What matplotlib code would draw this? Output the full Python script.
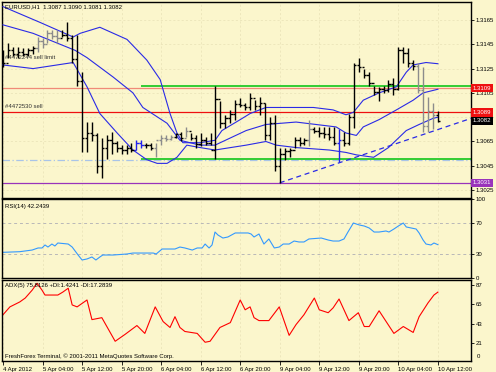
import numpy as np
import matplotlib.pyplot as plt
from matplotlib.transforms import blended_transform_factory

plt.rcParams['font.family'] = ['Liberation Sans', 'DejaVu Sans']

# ---- data (EURUSD H1) ----
bar_high = [1.3140, 1.3146, 1.3143, 1.3143, 1.3142, 1.3142, 1.3144, 1.3151, 1.3150, 1.3157,
            1.3157, 1.3157, 1.3157, 1.3163, 1.3153, 1.3153, 1.3122, 1.3081, 1.3081, 1.3072,
            1.3068, 1.3070, 1.3073, 1.3065, 1.3062, 1.3062, 1.3064, 1.3066, 1.3066, 1.3064,
            1.3064, 1.3064, 1.3070, 1.3070, 1.3070, 1.3072, 1.3073, 1.3077, 1.3072, 1.3070,
            1.3072, 1.3069, 1.3072, 1.3111, 1.3098, 1.3087, 1.3091, 1.3099, 1.3101, 1.3097,
            1.3105, 1.3099, 1.3102, 1.3097, 1.3085, 1.3087, 1.3060, 1.3060, 1.3060, 1.3069,
            1.3069, 1.3068, 1.3083, 1.3077, 1.3077, 1.3077, 1.3077, 1.3077, 1.3075, 1.3073,
            1.3088, 1.3130, 1.3134, 1.3125, 1.3122, 1.3111, 1.3110, 1.3111, 1.3116, 1.3117,
            1.3143, 1.3143, 1.3142, 1.3132, 1.3130, 1.3126, 1.3102, 1.3097, 1.3090]
bar_low = [1.3126, 1.3134, 1.3135, 1.3134, 1.3135, 1.3135, 1.3137, 1.3139, 1.3142, 1.3146,
           1.3149, 1.3146, 1.3151, 1.3148, 1.3130, 1.3111, 1.3056, 1.3056, 1.3065, 1.3039,
           1.3035, 1.3051, 1.3055, 1.3056, 1.3055, 1.3055, 1.3056, 1.3058, 1.3060, 1.3060,
           1.3058, 1.3052, 1.3062, 1.3065, 1.3066, 1.3068, 1.3065, 1.3069, 1.3066, 1.3060,
           1.3061, 1.3062, 1.3062, 1.3051, 1.3076, 1.3076, 1.3080, 1.3083, 1.3093, 1.3091,
           1.3091, 1.3091, 1.3087, 1.3066, 1.3066, 1.3041, 1.3031, 1.3050, 1.3052, 1.3060,
           1.3061, 1.3062, 1.3061, 1.3072, 1.3069, 1.3068, 1.3066, 1.3062, 1.3048, 1.3061,
           1.3062, 1.3076, 1.3122, 1.3117, 1.3111, 1.3103, 1.3098, 1.3105, 1.3106, 1.3103,
           1.3107, 1.3130, 1.3126, 1.3124, 1.3105, 1.3073, 1.3073, 1.3075, 1.3081]
bar_open = [1.3138, 1.3130, 1.3140, 1.3137, 1.3139, 1.3137, 1.3140, 1.3142, 1.3148, 1.3145,
            1.3154, 1.3152, 1.3150, 1.3153, 1.3150, 1.3133, 1.3115, 1.3068, 1.3072, 1.3070,
            1.3045, 1.3060, 1.3066, 1.3064, 1.3060, 1.3058, 1.3060, 1.3058, 1.3064, 1.3062,
            1.3062, 1.3060, 1.3066, 1.3068, 1.3067, 1.3069, 1.3071, 1.3068, 1.3074, 1.3068,
            1.3063, 1.3066, 1.3064, 1.3058, 1.3100, 1.3080, 1.3084, 1.3088, 1.3096, 1.3095,
            1.3093, 1.3101, 1.3094, 1.3097, 1.3070, 1.3080, 1.3045, 1.3055, 1.3057, 1.3058,
            1.3066, 1.3064, 1.3066, 1.3075, 1.3074, 1.3072, 1.3071, 1.3069, 1.3064, 1.3066,
            1.3064, 1.3085, 1.3128, 1.3126, 1.3120, 1.3113, 1.3106, 1.3108, 1.3107, 1.3112,
            1.3108, 1.3140, 1.3138, 1.3130, 1.3127, 1.3107, 1.3078, 1.3090, 1.3087]
bar_close = [1.3130, 1.3140, 1.3137, 1.3139, 1.3137, 1.3140, 1.3142, 1.3148, 1.3145, 1.3154,
             1.3152, 1.3150, 1.3153, 1.3150, 1.3133, 1.3115, 1.3068, 1.3072, 1.3070, 1.3045,
             1.3060, 1.3066, 1.3064, 1.3060, 1.3058, 1.3060, 1.3058, 1.3064, 1.3062, 1.3062,
             1.3060, 1.3066, 1.3068, 1.3067, 1.3069, 1.3071, 1.3068, 1.3074, 1.3068, 1.3063,
             1.3066, 1.3064, 1.3058, 1.3100, 1.3080, 1.3084, 1.3088, 1.3096, 1.3095, 1.3093,
             1.3101, 1.3094, 1.3097, 1.3070, 1.3080, 1.3045, 1.3055, 1.3057, 1.3058, 1.3066,
             1.3064, 1.3066, 1.3075, 1.3074, 1.3072, 1.3071, 1.3069, 1.3064, 1.3066, 1.3064,
             1.3085, 1.3128, 1.3126, 1.3120, 1.3113, 1.3106, 1.3108, 1.3107, 1.3112, 1.3108,
             1.3140, 1.3138, 1.3130, 1.3127, 1.3107, 1.3078, 1.3090, 1.3087, 1.3082]
gray_bars = [7, 8, 9, 10, 11, 31, 32, 33, 34, 37, 62, 84, 85, 86, 87]
blue_bars = [27, 28, 68]

# Bollinger bands (bar index, price)
bb_up_x = [0, 7.5, 14.2, 15.6, 19.6, 25.1, 29.1, 31.8, 33.8, 35.2, 36.4, 39.9, 42.9, 44.3,
           48, 50, 53.2, 62.8, 66.8, 69.4, 70.9, 72.9, 76.1, 79.6, 81.6, 83, 85.6, 88]
bb_up_y = [1.3176, 1.3163, 1.3151, 1.3154, 1.3159, 1.3149, 1.3132, 1.3116, 1.3088, 1.3072,
           1.3064, 1.3064, 1.3066, 1.3074, 1.3083, 1.3088, 1.3093, 1.3093, 1.3091, 1.3087,
           1.3089, 1.3099, 1.3105, 1.3110, 1.3122, 1.3128, 1.3130, 1.3129]
bb_mid_x = [0, 6.1, 14.6, 17, 22.3, 26.3, 28.3, 33.2, 35.8, 39.9, 42.9, 49.2, 53.2, 59.3,
            67.4, 69.4, 71.5, 72.9, 76.1, 79.6, 83, 85, 88]
bb_mid_y = [1.3161, 1.3154, 1.3140, 1.3134, 1.3118, 1.3105, 1.3093, 1.3080, 1.3066, 1.3062,
            1.3062, 1.3074, 1.3079, 1.3081, 1.3077, 1.3072, 1.3070, 1.3077, 1.3083, 1.3091,
            1.3099, 1.3105, 1.3108]
bb_lo_x = [0, 6.1, 14.2, 17, 19.6, 23.1, 26.3, 29.1, 31.2, 33.2, 35.2, 37.2, 39.9, 42.9,
           49.2, 53.2, 55.3, 59.3, 66, 69.4, 71.5, 75, 78, 81.6, 84.2, 87, 88]
bb_lo_y = [1.3128, 1.3125, 1.3130, 1.3110, 1.3088, 1.3072, 1.3058, 1.3050, 1.3047, 1.3047,
           1.3052, 1.3062, 1.3060, 1.3058, 1.3062, 1.3065, 1.3062, 1.3060, 1.3058, 1.3056,
           1.3054, 1.3052, 1.3060, 1.3074, 1.3079, 1.3084, 1.3085]

trend_x = [56, 94.7]
trend_y = [1.3031, 1.3084]

sell_limit_price = 1.3109
sell_price = 1.3089
bid_price = 1.3082
low_level = 1.3031
tp_level = 1.3050
green_hi, green_lo, green_start = 1.3111, 1.3051, 28

price_ticks = [1.3165, 1.3145, 1.3125, 1.3105, 1.3085, 1.3065, 1.3045, 1.3025]

rsi_x = [0, 3.4, 5.9, 7.1, 7.9, 8.5, 9.1, 9.9, 10.5, 11.1, 13.2, 14, 15.2, 16, 17, 18, 18.8,
         19.6, 20.2, 22.3, 25.1, 26.3, 30.4, 31, 32.2, 34.8, 35.8, 36.8, 38.3, 39.3, 40.3,
         40.9, 41.7, 42.3, 42.9, 43.5, 44.5, 45.5, 47, 48, 49.6, 50.2, 50.8, 51.8, 52.8,
         53.8, 54.9, 55.9, 56.7, 57.9, 58.9, 59.9, 60.9, 61.9, 64.4, 65.8, 66.8, 68, 69,
         69.8, 70.9, 72.1, 73.1, 74.1, 75.1, 76.1, 77.5, 78.1, 79.1, 80, 81, 81.6, 82.6,
         83.6, 84.2, 85, 85.6, 86.6, 87.2, 88]
rsi_y = [32.5, 33.3, 35.4, 38.0, 38.0, 41.8, 39.2, 43.0, 40.5, 44.3, 43.0, 39.2, 29.1, 22.8,
         24.1, 26.6, 22.8, 26.6, 29.1, 29.1, 30.4, 31.6, 31.6, 30.4, 36.7, 36.7, 39.2, 38.0,
         35.4, 38.0, 38.0, 43.0, 38.0, 41.8, 58.2, 54.4, 50.6, 51.9, 57.0, 57.0, 57.0, 55.7,
         51.9, 55.7, 43.0, 49.4, 38.0, 39.2, 43.0, 43.0, 46.8, 45.6, 45.6, 49.4, 50.6, 48.1,
         46.8, 46.8, 49.4, 58.2, 69.6, 67.1, 65.8, 63.3, 58.2, 58.2, 59.5, 58.2, 62.0, 65.8,
         69.6, 64.6, 63.3, 62.0, 57.0, 48.1, 43.0, 41.8, 44.3, 42.2]

adx_x = [0, 1.4, 3.4, 4.5, 5.9, 6.9, 7.9, 8.5, 11.1, 12.1, 13.2, 14, 15, 17, 18, 20, 22.7,
         24.7, 27.1, 28.7, 30.8, 32.4, 33.8, 34.8, 35.8, 36.8, 39.3, 40.9, 41.9, 43.9, 46,
         48, 49, 50, 50.8, 51.8, 53.8, 55.9, 57.9, 59.3, 60.9, 63, 64, 65.8, 66.8, 68, 70,
         71.9, 73.1, 74.1, 76.1, 79.1, 81, 83, 84.2, 86, 87.2, 88]
adx_y = [53.3, 62.2, 67.8, 72.2, 81.1, 88.9, 81.1, 75.6, 75.6, 78.9, 83.3, 64.4, 62.2, 70.0,
         47.8, 50.0, 23.3, 31.1, 41.1, 32.2, 62.2, 45.6, 38.9, 51.1, 38.9, 34.4, 32.2, 22.2,
         23.3, 38.9, 44.4, 70.0, 58.9, 62.2, 50.0, 46.7, 46.7, 62.2, 30.0, 42.2, 53.3, 72.2,
         58.9, 55.6, 61.1, 71.1, 46.7, 55.6, 40.0, 40.0, 57.8, 32.2, 40.0, 33.3, 51.1, 66.7,
         75.6, 78.9]

time_ticks = [0, 8, 16, 24, 32, 40, 48, 56, 64, 72, 80, 88]
time_labels = ['4 Apr 2012', '5 Apr 04:00', '5 Apr 12:00', '5 Apr 20:00', '6 Apr 04:00',
               '6 Apr 12:00', '6 Apr 20:00', '9 Apr 04:00', '9 Apr 12:00', '9 Apr 20:00',
               '10 Apr 04:00', '10 Apr 12:00']

# ---- figure ----
W, H = 496, 372
bg = '#FBF6CC'
grid_c = '#E8E1B6'
fs = 4.3
fig = plt.figure(figsize=(W / 100, H / 100), dpi=100)
fig.patch.set_facecolor(bg)

ax = fig.add_axes([2 / W, 1 - 198 / H, 469 / W, 196 / H])
ax_rsi = fig.add_axes([2 / W, 1 - 278 / H, 469 / W, 79 / H])
ax_adx = fig.add_axes([2 / W, 1 - 361 / H, 469 / W, 81 / H])

xmin, xmax = -0.2, 94.7
for a in (ax, ax_rsi, ax_adx):
    a.set_facecolor(bg)
    a.set_xlim(xmin, xmax)
    for s in a.spines.values():
        s.set_color('black')
        s.set_linewidth(1.0)
    a.yaxis.tick_right()
    a.tick_params(axis='y', direction='out', length=2, width=0.6, labelsize=fs, pad=1.5)
    a.set_xticks(time_ticks)
    a.grid(True, color=grid_c, linestyle=(0, (3, 3)), linewidth=0.5)
    a.set_axisbelow(True)
ax.tick_params(axis='x', length=0, labelbottom=False)
ax_rsi.tick_params(axis='x', length=0, labelbottom=False)

# main price pane
ax.set_ylim(1.30185, 1.31798)
ax.set_yticks(price_ticks)
ax.set_yticklabels(['%.4f' % p for p in price_ticks])

idx = np.arange(len(bar_high))
cols = []
for i in idx:
    if i in blue_bars:
        cols.append('#2222EE')
    elif i in gray_bars:
        cols.append('#8C8C8C')
    else:
        cols.append('black')
ax.vlines(idx, bar_low, bar_high, colors=cols, linewidth=1.0, zorder=4)
ax.hlines(bar_open, idx - 0.45, idx, colors=cols, linewidth=1.0, zorder=4)
ax.hlines(bar_close, idx, idx + 0.45, colors=cols, linewidth=1.0, zorder=4)

ax.plot(bb_up_x, bb_up_y, color='#2A2AE6', lw=0.8, zorder=3)
ax.plot(bb_mid_x, bb_mid_y, color='#2A2AE6', lw=0.8, zorder=3)
ax.plot(bb_lo_x, bb_lo_y, color='#2A2AE6', lw=0.8, zorder=3)
ax.plot(trend_x, trend_y, color='#2A2AE6', lw=0.9, ls=(0, (4, 3)), zorder=3)

ax.axhline(tp_level, color='#A9C4E8', lw=0.9, ls=(0, (6, 2, 1, 2)), zorder=2)
ax.axhline(sell_limit_price, color='#F08A78', lw=0.9, zorder=2)
ax.axhline(sell_price, color='#EE1010', lw=0.9, zorder=2)
ax.axhline(low_level, color='#9933BB', lw=0.9, zorder=2)
ax.hlines([green_hi, green_lo], green_start, xmax, colors='#33CC33', lw=1.4, zorder=2)

tr = blended_transform_factory(ax.transAxes, ax.transData)
ax.text(0.006, 1.31777, 'EURUSD,H1  1.3087 1.3090 1.3081 1.3082', fontsize=fs,
        transform=tr, va='top')
ax.text(0.006, 1.31345, '#4472244 sell limit', fontsize=fs, color='#333333',
        transform=tr, va='center')
ax.text(0.006, 1.30935, '#4472530 sell', fontsize=fs, color='#333333',
        transform=tr, va='center')

for p, fc in [(sell_limit_price, '#EE1010'), (sell_price, '#EE1010'),
              (bid_price, 'black'), (low_level, '#9933BB')]:
    ax.text(1.003, p, '%.4f' % p, transform=tr, fontsize=fs, color='white', va='center',
            ha='left', zorder=10,
            bbox=dict(facecolor=fc, edgecolor='none', boxstyle='square,pad=0.3'))

# RSI pane
ax_rsi.set_ylim(0, 100)
ax_rsi.set_yticks([0, 30, 70, 100])
ax_rsi.yaxis.grid(False)
ax_rsi.axhline(70, color='#B8B8B8', lw=0.7, ls=(0, (3, 3)))
ax_rsi.axhline(30, color='#B8B8B8', lw=0.7, ls=(0, (3, 3)))
ax_rsi.plot(rsi_x, rsi_y, color='#3399FF', lw=0.8)
ax_rsi.text(0.006, 0.94, 'RSI(14) 42.2439', transform=ax_rsi.transAxes, fontsize=fs, va='top')

# ADX pane
ax_adx.set_ylim(1, 92.6)
ax_adx.set_yticks([21, 43, 65, 87])
ax_adx.yaxis.grid(False)
ax_adx.text(1.012, 0.06, '0', transform=ax_adx.transAxes, fontsize=fs, va='center')
ax_adx.plot(adx_x, adx_y, color='#FF0000', lw=0.8)
ax_adx.text(0.006, 0.96, 'ADX(5) 75.8126 +DI:1.4241 -DI:17.2839', transform=ax_adx.transAxes,
            fontsize=fs, va='top')
ax_adx.text(0.006, 0.03, 'FreshForex Terminal, \u00a9 2001-2011 MetaQuotes Software Corp.',
            transform=ax_adx.transAxes, fontsize=fs, va='bottom')
ax_adx.set_xticklabels(time_labels)
ax_adx.tick_params(axis='x', direction='out', length=3, width=0.6, labelsize=fs, pad=1)
for lab in ax_adx.get_xticklabels():
    lab.set_ha('left')

fig.savefig('out.png', dpi=100, facecolor=bg)
